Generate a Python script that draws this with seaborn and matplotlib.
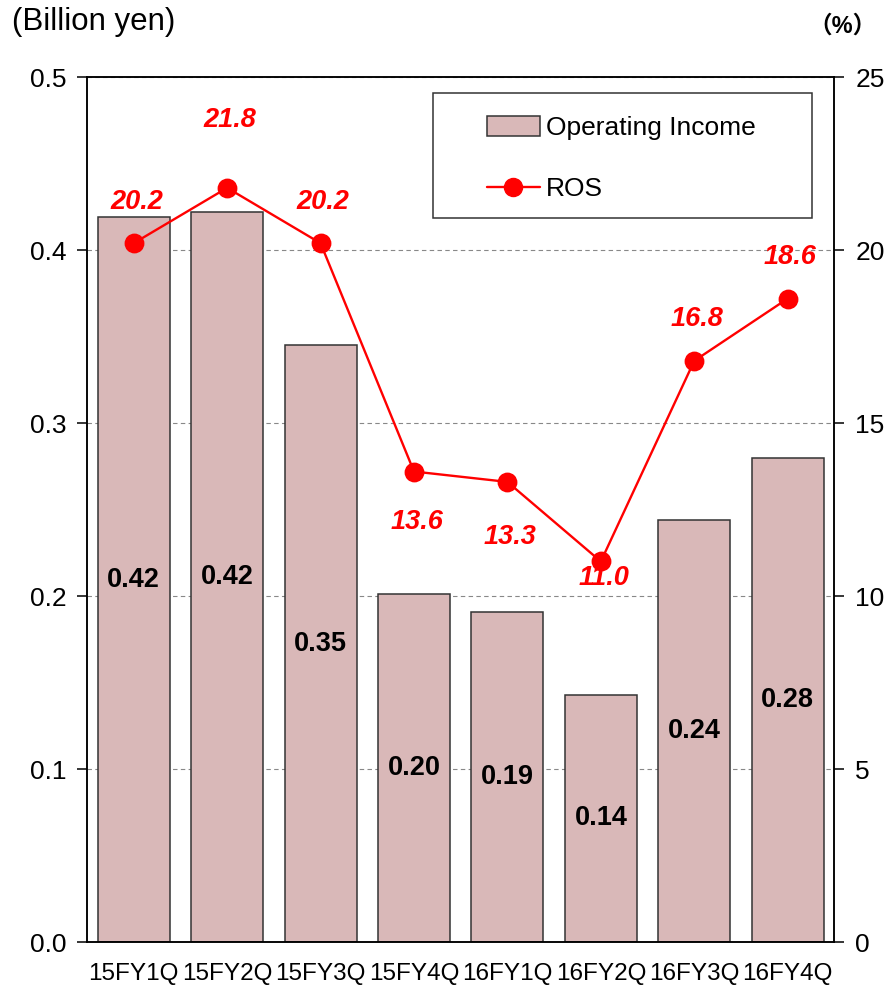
import numpy as np
import matplotlib
matplotlib.use("Agg")
import matplotlib.pyplot as plt
import seaborn as sns
from matplotlib.patches import Patch, Rectangle
from matplotlib.lines import Line2D

quarters = ['15FY1Q', '15FY2Q', '15FY3Q', '15FY4Q', '16FY1Q', '16FY2Q', '16FY3Q', '16FY4Q']
op_income = [0.419, 0.422, 0.345, 0.201, 0.191, 0.143, 0.244, 0.280]
op_labels = ['0.42', '0.42', '0.35', '0.20', '0.19', '0.14', '0.24', '0.28']
ros = [20.2, 21.8, 20.2, 13.6, 13.3, 11.0, 16.8, 18.6]

# label offsets for the ROS numbers (points)
ros_offsets = [30, 49, 30, -36, -40, -12, 30, 30]

sns.set_style('white')
plt.rcParams['font.family'] = ['Liberation Sans', 'Noto Sans CJK JP', 'DejaVu Sans']
plt.rcParams['text.color'] = 'black'
plt.rcParams['xtick.color'] = 'black'
plt.rcParams['ytick.color'] = 'black'
plt.rcParams['axes.labelcolor'] = 'black'

fig = plt.figure(figsize=(8.93, 9.89), dpi=100)
ax = fig.add_axes([0.0974, 0.0475, 0.837, 0.8745])

sns.barplot(x=quarters, y=op_income, color='#D9B8B8', saturation=1,
            edgecolor='#333333', linewidth=1.1, width=0.77, ax=ax, zorder=2)
for i, (v, lab) in enumerate(zip(op_income, op_labels)):
    ax.text(i, v / 2, lab, ha='center', va='center', fontsize=19.5,
            fontweight='bold', color='black', zorder=3)

ax.set_ylim(0, 0.5)
ax.set_xlim(-0.5, 7.5)
ax.set_yticks(np.arange(0, 0.51, 0.1))
ax.set_yticklabels([f'{t:.1f}' for t in np.arange(0, 0.51, 0.1)], fontsize=19)
ax.set_xticks(range(8))
ax.set_xticklabels(quarters, fontsize=17.5)
ax.set_xticks(np.arange(-0.5, 8, 1), minor=True)
ax.tick_params(axis='x', which='major', length=0, pad=15)
ax.tick_params(axis='x', which='minor', length=7, width=1.1, direction='out', color='black')
ax.tick_params(axis='y', length=7, width=1.1, direction='out', color='black', pad=8, left=True)
ax.set_xlabel('')
ax.set_ylabel('')
ax.yaxis.grid(True, linestyle=(0, (4, 3)), color='#888888', linewidth=0.8)
ax.set_axisbelow(True)
for s in ax.spines.values():
    s.set_color('black')
    s.set_linewidth(1.1)

ax2 = ax.twinx()
sns.pointplot(x=quarters, y=ros, color='#FF0000', markers='o', markersize=13,
              linewidth=1.7, ax=ax2, zorder=4)
ax2.set_ylim(0, 25)
ax2.set_xlim(-0.5, 7.5)
ax2.set_yticks(range(0, 26, 5))
ax2.set_yticklabels([str(t) for t in range(0, 26, 5)], fontsize=19)
ax2.tick_params(axis='y', length=7, width=1.1, direction='out', color='black', pad=8, right=True)
ax2.set_ylabel('')
ax2.set_xlabel('')
for s in ax2.spines.values():
    s.set_color('black')
    s.set_linewidth(1.1)

for i, (v, off) in enumerate(zip(ros, ros_offsets)):
    ax2.annotate(f'{v:.1f}', (i, v), xytext=(2, off), textcoords='offset points',
                 ha='center', va='center', fontsize=19.5, fontweight='bold',
                 fontstyle='italic', color='#FF0000')

ax2.add_patch(Rectangle((0.463, 0.837), 0.507, 0.145, transform=ax2.transAxes,
                        fill=False, edgecolor='#333333', linewidth=1.1, zorder=5))
handles = [Patch(facecolor='#D9B8B8', edgecolor='#333333', linewidth=1.1),
           Line2D([0], [0], color='#FF0000', linewidth=1.7, marker='o', markersize=13)]
ax2.legend(handles, ['Operating Income', 'ROS'], loc='center left',
           bbox_to_anchor=(0.535, 0.906), frameon=False, fontsize=19,
           borderpad=0, borderaxespad=0, handlelength=2.0, handletextpad=0.25,
           labelspacing=1.4, handleheight=0.8)

fig.text(12 / 893, 1 - 22 / 989, '(Billion yen)', fontsize=22.5, ha='left', va='center')
fig.text(843 / 893, 1 - 26 / 989, '（%）', fontsize=17, ha='center', va='center',
         fontweight='bold')

fig.savefig('out.png', dpi=100)
